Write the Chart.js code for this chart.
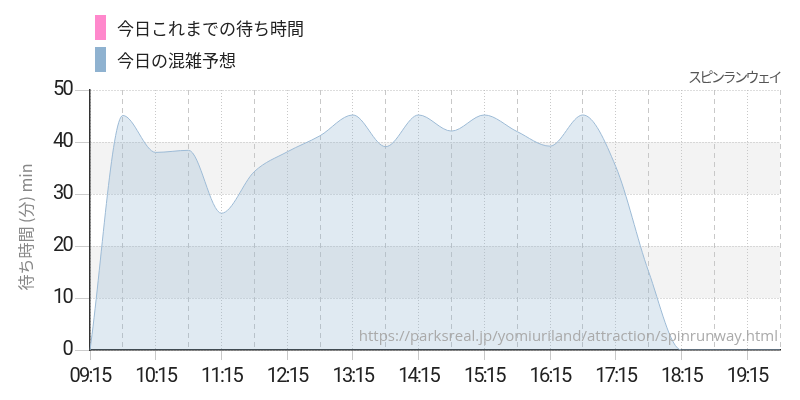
<!DOCTYPE html>
<html>
<head>
<meta charset="utf-8">
<script src="https://cdn.jsdelivr.net/npm/chart.js@4"></script>
<style>
  body { margin: 0; background: #fff; }
  #wrap { position: relative; width: 800px; height: 400px; }
  #legend { position: absolute; left: 95px; top: 15px; font-family: 'Noto Sans CJK JP', sans-serif; font-size: 17px; color: #222; }
  .item { display: flex; align-items: center; height: 25px; margin-bottom: 7px; }
  .box { width: 11px; height: 25px; margin-right: 11px; }
</style>
</head>
<body>
<div id="wrap">
  <canvas id="waitChart" width="800" height="400"></canvas>
  <div id="legend"></div>
</div>
<script>
// half-hour slots, wait time in minutes
const times = ['09:15', '09:45', '10:15', '10:45', '11:15', '11:45', '12:15', '12:45',
  '13:15', '13:45', '14:15', '14:45', '15:15', '15:45', '16:15', '16:45',
  '17:15', '17:45', '18:15', '18:45', '19:15', '19:45'];
const todaySoFar = [];
const forecast = [0, 45.1, 38.0, 38.4, 26.3, 34.3, 38.1, 41.2,
  45.2, 39.1, 45.2, 42.1, 45.2, 42.0, 39.2, 45.2,
  35.3, 15.1, 0, 0, 0, 0];
const yTicks = [0, 10, 20, 30, 40, 50];
const seriesNames = ['今日これまでの待ち時間', '今日の混雑予想'];
const yTitle = '待ち時間 (分) min';
const attraction = 'スピンランウェイ';
const sourceUrl = 'https://parksreal.jp/yomiuriland/attraction/spinrunway.html';

// find a really narrow font if one is installed, else squeeze Roboto a bit
function pickFont(cands) {
    const c = document.createElement('canvas').getContext('2d');
    c.font = '20px Roboto';
    const ref = c.measureText('09:15').width;
    for (const f of cands) {
        c.font = "20px '" + f + "', Roboto";
        if (c.measureText('09:15').width < ref * 0.85) return f;
    }
    return null;
}
const narrow = pickFont(['Liberation Sans Narrow', 'DejaVu Sans Condensed', 'Roboto Condensed',
    'Open Sans Condensed', 'Noto Sans Condensed', 'Arial Narrow', 'Nimbus Sans Narrow']);
const numFont = narrow ? "'" + narrow + "', sans-serif" : "Roboto, sans-serif";
const numSize = 20;
const squeeze = narrow ? '0px' : '-1.8px';
const jpFont = "'Noto Sans CJK JP', sans-serif";

// grey bands behind the plot, y title and the two texts
const extras = {
    id: 'extras',
    beforeDraw(chart) {
        const {ctx, chartArea: a, scales: {y}} = chart;
        ctx.fillStyle = '#f3f3f3';
        [[10, 20], [30, 40]].forEach(([lo, hi]) => {
            const top = y.getPixelForValue(hi);
            ctx.fillRect(a.left, top, a.right - a.left, y.getPixelForValue(lo) - top);
        });
        // tick labels are drawn after this, tighter spacing for them
        ctx.letterSpacing = squeeze;
    },
    afterDraw(chart) {
        const {ctx, chartArea: a} = chart;
        ctx.save();
        ctx.letterSpacing = '0px';
        ctx.fillStyle = '#888';
        ctx.font = '16px ' + jpFont;
        ctx.textAlign = 'center';
        ctx.textBaseline = 'middle';
        ctx.translate(26, (a.top + a.bottom) / 2 + 7);
        ctx.rotate(-Math.PI / 2);
        ctx.fillText(yTitle, 0, 0);
        ctx.restore();

        ctx.save();
        ctx.textAlign = 'right';
        ctx.textBaseline = 'middle';
        ctx.fillStyle = '#555';
        ctx.font = '14px ' + jpFont;
        ctx.letterSpacing = '-2.5px';
        ctx.fillText(attraction, a.right, a.top - 13);
        ctx.letterSpacing = '0px';
        ctx.fillStyle = '#aaa';
        ctx.font = "15px 'Open Sans', sans-serif";
        ctx.fillText(sourceUrl, a.right - 2, a.bottom - 13);
        ctx.restore();
    }
};

const chart = new Chart(document.getElementById('waitChart'), {
    type: 'line',
    data: {
        labels: times,
        datasets: [{
            label: seriesNames[0],
            data: todaySoFar,
            borderColor: '#ff88cc',
            backgroundColor: '#ff88cc'
        }, {
            label: seriesNames[1],
            data: forecast,
            borderColor: '#9dbbd6',
            backgroundColor: 'rgba(143, 178, 208, 0.28)',
            legendColor: '#8fb2d0',
            borderWidth: 1,
            fill: 'origin',
            pointRadius: 0,
            cubicInterpolationMode: 'monotone'
        }]
    },
    options: {
        responsive: false,
        animation: false,
        layout: { padding: { top: 90, right: 20, left: 0, bottom: 0 } },
        plugins: { legend: { display: false }, tooltip: { enabled: false } },
        scales: {
            x: {
                afterFit: (s) => { s.height = 50; },
                grid: {
                    color: '#c8c8c8',
                    tickColor: (c) => c.index % 2 === 0 ? '#c8c8c8' : 'rgba(0,0,0,0)',
                    tickLength: 10
                },
                border: {
                    color: '#222',
                    width: 1.5,
                    dash: (c) => c.index % 2 === 0 ? [1, 2] : [5, 4]
                },
                ticks: {
                    autoSkip: false,
                    maxRotation: 0,
                    padding: 5,
                    color: '#222',
                    font: { family: numFont, size: numSize },
                    callback: function(v, i) { return i % 2 === 0 ? this.getLabelForValue(v) : ''; }
                }
            },
            y: {
                min: 0,
                max: 50,
                afterFit: (s) => { s.width = 90; },
                afterBuildTicks: (s) => { s.ticks = yTicks.map(v => ({value: v})); },
                grid: { color: '#bbb', tickColor: '#ccc', tickLength: 15 },
                border: { color: '#333', width: 1.5, dash: [1, 2] },
                ticks: {
                    padding: 3,
                    color: '#222',
                    font: { family: numFont, size: numSize }
                }
            }
        }
    },
    plugins: [extras]
});

// simple stacked legend
const legendDiv = document.getElementById('legend');
chart.data.datasets.forEach((ds) => {
    const item = document.createElement('div');
    item.classList.add('item');
    const box = document.createElement('span');
    box.classList.add('box');
    box.style.background = ds.legendColor || ds.backgroundColor;
    item.appendChild(box);
    const text = document.createElement('span');
    text.textContent = ds.label;
    item.appendChild(text);
    legendDiv.appendChild(item);
});
</script>
</body>
</html>
